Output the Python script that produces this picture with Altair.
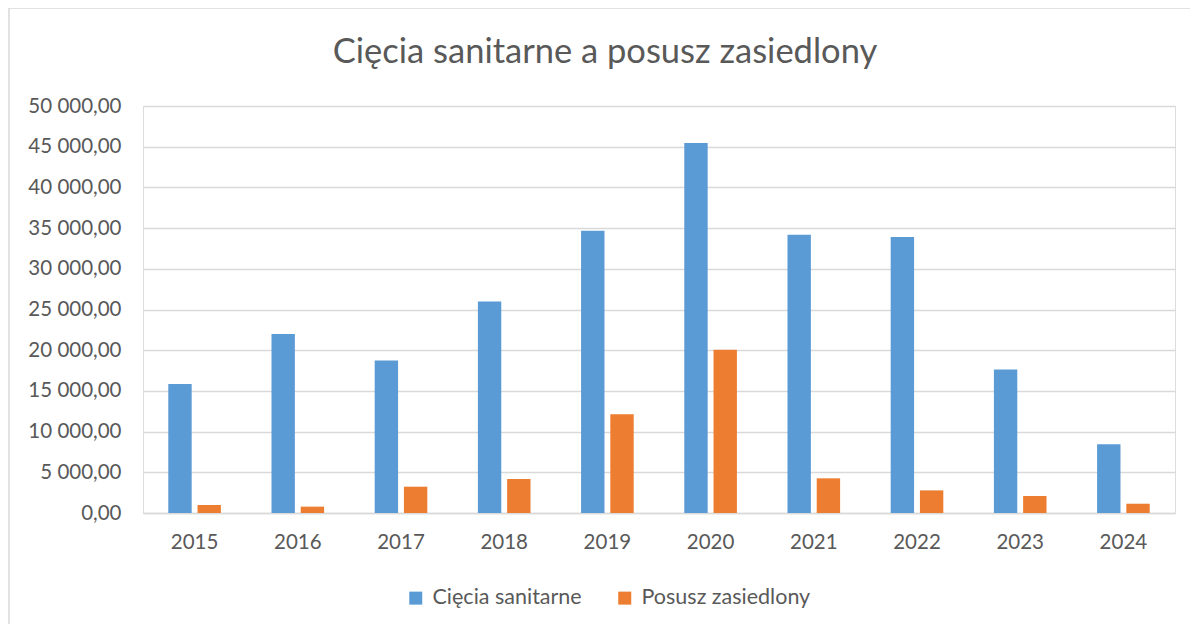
import altair as alt
import pandas as pd

years = ["2015", "2016", "2017", "2018", "2019", "2020", "2021", "2022", "2023", "2024"]
ciecia = [15860, 22000, 18730, 25980, 34680, 45450, 34190, 33900, 17620, 8440]
posusz = [980, 780, 3230, 4180, 12130, 20040, 4260, 2780, 2090, 1140]
series_names = ["Cięcia sanitarne", "Posusz zasiedlony"]
colors = ["#5B9BD5", "#ED7D31"]
y_ticks = [0, 5000, 10000, 15000, 20000, 25000, 30000, 35000, 40000, 45000, 50000]

rows = []
for i, y in enumerate(years):
    rows.append({"rok": y, "seria": series_names[0], "wartosc": ciecia[i]})
    rows.append({"rok": y, "seria": series_names[1], "wartosc": posusz[i]})
df = pd.DataFrame(rows)

FONT = "Lato"
TXT = "#595959"
GRID = "#D9D9D9"
W, H = 1032, 407

bars = alt.Chart(df).mark_bar().encode(
    x=alt.X("rok:N", sort=years, title=None,
            scale=alt.Scale(paddingInner=0.49, paddingOuter=0.245),
            axis=alt.Axis(labelAngle=0, ticks=False, domain=True, domainColor=GRID,
                          domainWidth=1.3, labelPadding=19, labelFontSize=20.5,
                          labelColor=TXT, labelFont=FONT)),
    xOffset=alt.XOffset("seria:N", sort=series_names,
                        scale=alt.Scale(paddingInner=0.2, paddingOuter=0)),
    y=alt.Y("wartosc:Q", title=None,
            scale=alt.Scale(domain=[0, 50000], nice=False),
            axis=alt.Axis(values=y_ticks, format=",.2f", domain=False, ticks=False,
                          grid=True, gridColor=GRID, gridWidth=1.3,
                          labelPadding=22, labelFontSize=20.5, labelColor=TXT,
                          labelFont=FONT)),
    color=alt.Color("seria:N", sort=series_names,
                    scale=alt.Scale(domain=series_names, range=colors),
                    legend=alt.Legend(title=None, orient="none", direction="horizontal",
                                      legendX=262, legendY=481, symbolType="square",
                                      symbolSize=169, symbolStrokeWidth=0,
                                      labelFontSize=21.5, labelColor=TXT, labelFont=FONT,
                                      labelOffset=6, columnPadding=32, labelLimit=0)),
)

border = alt.Chart(alt.Data(values=[{"a": 1}])).mark_rect(
    fill=None, stroke=GRID, strokeWidth=1.5
).encode(
    x=alt.value(-134), x2=alt.value(W + 200),
    y=alt.value(-98), y2=alt.value(H + 300),
)

chart = alt.layer(border, bars).properties(
    width=W, height=H,
    title=alt.TitleParams("Cięcia sanitarne a posusz zasiedlony", fontSize=34.5,
                          font=FONT, fontWeight="normal", color=TXT,
                          anchor="middle", dx=-54, offset=0, dy=63),
    autosize=alt.AutoSizeParams(type="none"),
    padding={"left": 135, "top": 98, "right": 15, "bottom": 111},
).configure_view(stroke=None).configure(
    locale={"number": {"decimal": ",", "thousands": "\u00a0", "grouping": [3],
                       "currency": ["", " zł"]}}
)

chart.save("out.html", embed_options={"renderer": "svg", "actions": False})
